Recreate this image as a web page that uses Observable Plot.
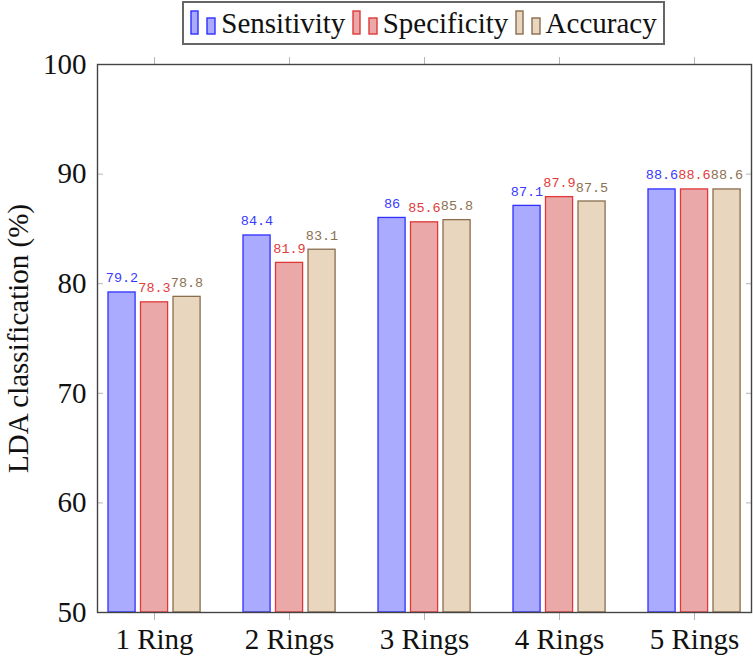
<!DOCTYPE html>
<html>
<head>
<meta charset="utf-8">
<script src="https://cdn.jsdelivr.net/npm/d3@7"></script>
<script src="https://cdn.jsdelivr.net/npm/@observablehq/plot@0.6"></script>
<style>
  body { margin: 0; background: #fff; font-family: "Liberation Serif", serif; }
  #legend-wrap { height: 48px; position: relative; }
  #legend {
    position: absolute; left: 182px; top: 1px; width: 479px; height: 40px;
    border: 2px solid #666; display: flex; align-items: center; justify-content: space-evenly;
    box-sizing: content-box; font-size: 29px; color: #111;
  }
  .item { display: flex; align-items: center; }
  .item svg { margin-right: 3px; }
</style>
</head>
<body>
<div id="legend-wrap"><div id="legend"></div></div>
<div id="chart"></div>
<script>
const categories = ["1 Ring", "2 Rings", "3 Rings", "4 Rings", "5 Rings"];
const seriesNames = ["Sensitivity", "Specificity", "Accuracy"];
const sensitivity = [79.2, 84.4, 86, 87.1, 88.6];
const specificity = [78.3, 81.9, 85.6, 87.9, 88.6];
const accuracy = [78.8, 83.1, 85.8, 87.5, 88.6];
const yTicks = [50, 60, 70, 80, 90, 100];

const fills = ["#aaaaff", "#eba8a8", "#e8d6bf"];
const strokes = ["#3030ff", "#e03838", "#8a6e4e"];
const labelColors = ["#3a3aff", "#e23c3c", "#8b7152"];

const values = [sensitivity, specificity, accuracy];
const tables = values.map((arr, s) => categories.map((c, i) => ({category: c, value: arr[i], series: seriesNames[s]})));

// legend
const legend = document.getElementById("legend");
seriesNames.forEach((name, s) => {
  const item = document.createElement("div");
  item.className = "item";
  item.innerHTML = `<svg width="28" height="26" viewBox="0 0 28 26">
      <rect x="1" y="1" width="7" height="23" fill="${fills[s]}" stroke="${strokes[s]}" stroke-width="1.4"/>
      <rect x="17" y="8" width="8" height="16" fill="${fills[s]}" stroke="${strokes[s]}" stroke-width="1.4"/>
    </svg><span>${name}</span>`;
  legend.appendChild(item);
});

const BAR = 28, STEP = 32.5;
const bandwidth = 92.9;
const marks = [];
tables.forEach((t, s) => {
  const left = s * STEP;
  marks.push(Plot.barY(t, {
    x: "category", y1: () => 50, y2: "value",
    fill: fills[s], stroke: strokes[s], strokeWidth: 1.3,
    insetLeft: left, insetRight: bandwidth - left - BAR
  }));
});
tables.forEach((t, s) => {
  marks.push(Plot.text(t, {
    x: "category", y: "value", text: d => String(d.value),
    dx: (s - 1) * STEP, dy: -10, lineAnchor: "bottom",
    fill: labelColors[s], fontSize: 13.5, fontFamily: "Liberation Mono"
  }));
});

const chart = Plot.plot({
  width: 753,
  height: 611,
  marginLeft: 97,
  marginRight: 2,
  marginTop: 16,
  marginBottom: 47,
  style: {fontFamily: "Liberation Serif", fontSize: "29px", color: "#111", background: "#fff"},
  x: {domain: categories, paddingInner: 0.316, paddingOuter: 0.066, align: 0.5, axis: null},
  y: {domain: [50, 100], axis: null},
  marks: [
    ...marks,
    Plot.axisX({anchor: "bottom", tickSize: 8, tickPadding: 8, stroke: "#b5b5b5", label: null, fontSize: 29}),
    Plot.axisX({anchor: "top", tickSize: 8, stroke: "#b5b5b5", label: null, tickFormat: () => ""}),
    Plot.axisY({anchor: "left", ticks: yTicks, tickSize: -6, tickPadding: 17, stroke: "#b5b5b5", label: null, fontSize: 29}),
    Plot.axisY({anchor: "right", ticks: yTicks, tickSize: -6, stroke: "#b5b5b5", label: null, tickFormat: () => ""}),
    Plot.text(["LDA classification (%)"], {frameAnchor: "left", textAnchor: "middle", rotate: -90, dx: -79, fontSize: 29}),
    Plot.frame({stroke: "#444", strokeWidth: 1.4})
  ]
});
document.getElementById("chart").appendChild(chart);
</script>
</body>
</html>
